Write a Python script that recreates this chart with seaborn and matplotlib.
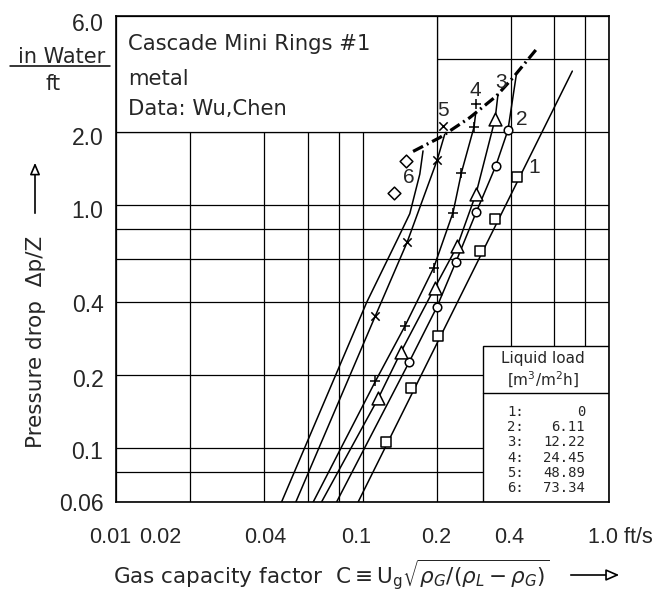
import matplotlib
matplotlib.use("Agg")
import matplotlib.pyplot as plt
import pandas as pd
import seaborn as sns
from matplotlib.patches import Rectangle
from matplotlib.lines import Line2D
from matplotlib.ticker import NullFormatter
from matplotlib.transforms import ScaledTranslation

# ---------------------------------------------------------------------------
# Cascade Mini Rings #1, metal -- pressure drop per unit bed height
# C: gas capacity factor [ft/s], dp: pressure drop [in water / ft]
# ---------------------------------------------------------------------------
curve_ids = ["1", "2", "3", "4", "5", "6"]
liquid_loads = ["0", "6.11", "12.22", "24.45", "48.89", "73.34"]

# measured points
c1_meas = [0.124, 0.158, 0.2025, 0.299, 0.346, 0.423]
dp1_meas = [0.106, 0.176, 0.288, 0.645, 0.876, 1.31]
c2_meas = [0.1545, 0.200, 0.239, 0.289, 0.347, 0.389]
dp2_meas = [0.226, 0.380, 0.581, 0.934, 1.446, 2.03]
c3_meas = [0.1156, 0.143, 0.1964, 0.2427, 0.2887, 0.3453]
dp3_meas = [0.160, 0.248, 0.457, 0.681, 1.113, 2.27]
c4_meas = [0.1127, 0.1484, 0.1945, 0.233, 0.252, 0.2835, 0.288]
dp4_meas = [0.188, 0.317, 0.5525, 0.932, 1.361, 2.10, 2.615]
c5_meas = [0.1129, 0.1516, 0.2007, 0.2122]
dp5_meas = [0.351, 0.702, 1.528, 2.117]
c6_meas = [0.1342, 0.1498]
dp6_meas = [1.12, 1.521]

# correlation curves
c1_curve = [0.096, 0.710]
dp1_curve = [0.06, 3.56]
c2_curve = [0.0785, 0.1545, 0.2001, 0.2388, 0.2892, 0.347, 0.389, 0.421]
dp2_curve = [0.06, 0.2256, 0.3797, 0.581, 0.934, 1.446, 2.033, 3.45]
c3_curve = [0.0682, 0.1156, 0.143, 0.1964, 0.2427, 0.2887, 0.3453, 0.3545]
dp3_curve = [0.06, 0.1596, 0.248, 0.457, 0.681, 1.113, 2.267, 2.858]
c4_curve = [0.0631, 0.1127, 0.1484, 0.1945, 0.233, 0.252, 0.2835, 0.288]
dp4_curve = [0.06, 0.188, 0.3167, 0.5525, 0.9324, 1.361, 2.097, 2.401]
c5_curve = [0.05365, 0.1129, 0.1516, 0.2007, 0.2156]
dp5_curve = [0.06, 0.351, 0.702, 1.528, 1.957]
c6_curve = [0.04695, 0.104, 0.139, 0.1555, 0.1708, 0.176]
dp6_curve = [0.06, 0.398, 0.727, 0.921, 1.341, 1.671]

# flooding limit
c_flood = [0.1604, 0.2057, 0.2723, 0.3494, 0.4077, 0.5073]
dp_flood = [1.663, 1.895, 2.29, 2.812, 3.344, 4.375]

# axis ticks and grid
x_major = [0.01, 0.02, 0.04, 0.1, 0.2, 0.4, 1.0]
x_major_labels = ["0.01", "0.02", "0.04", "0.1", "0.2", "0.4", "1.0 ft/s"]
x_minor = [0.06, 0.08, 0.6, 0.8]
y_major = [0.06, 0.1, 0.2, 0.4, 1.0, 2.0, 6.0]
y_major_labels = ["0.06", "0.1", "0.2", "0.4", "1.0", "2.0", "6.0"]
y_minor = [0.08, 0.6, 0.8, 4.0]

# ---------------------------------------------------------------------------
sns.set_style("white")
plt.rcParams["font.family"] = ["DejaVu Sans"]
plt.rcParams["mathtext.fontset"] = "dejavusans"
NUM_FONT = ["Liberation Sans", "DejaVu Sans"]
INK = "black"

fig = plt.figure(figsize=(6.67, 6.0), dpi=100)
W, H = 667.0, 600.0
ax = fig.add_axes([116 / W, 1 - 502 / H, (609 - 116) / W, (502 - 16) / H])
ax.set_xscale("log")
ax.set_yscale("log")
ax.set_xlim(0.01, 1.0)
ax.set_ylim(0.06, 6.0)

# grid
ax.set_xticks(x_major, x_major_labels)
ax.set_xticks(x_minor, minor=True)
ax.set_yticks(y_major, y_major_labels)
ax.set_yticks(y_minor, minor=True)
ax.xaxis.set_minor_formatter(NullFormatter())
ax.yaxis.set_minor_formatter(NullFormatter())
ax.set_axisbelow(True)
ax.grid(True, which="both", color=INK, lw=0.9)
ax.tick_params(which="both", length=0)
ax.tick_params(axis="x", pad=18)
ax.tick_params(axis="y", pad=9)
for sp in ax.spines.values():
    sp.set_color(INK)
    sp.set_linewidth(1.2)
for lab in ax.get_xticklabels():
    lab.set_fontfamily(NUM_FONT)
    lab.set_fontsize(15.5)
for lab in ax.get_yticklabels():
    lab.set_fontfamily(NUM_FONT)
    lab.set_fontsize(16.5)

# hand-placed tick label offsets (pixels)
x_shift = [-6, -30, 1, -6, -1, -2, -21]
for lab, dx in zip(ax.get_xticklabels(), x_shift):
    lab.set_transform(lab.get_transform() + ScaledTranslation(dx / 100, 0, fig.dpi_scale_trans))
ax.get_xticklabels()[-1].set_horizontalalignment("left")
y_shift = [0, -2, -3, -1, -4, -4, -6]
for lab, dy in zip(ax.get_yticklabels(), y_shift):
    lab.set_transform(lab.get_transform() + ScaledTranslation(0, dy / 100, fig.dpi_scale_trans))

# boxes blanking the grid
ax.add_patch(Rectangle((0.01, 2.0), 0.2 - 0.01, 6.0 - 2.0, transform=ax.transData,
                       facecolor="white", edgecolor=INK, lw=0.9, zorder=2))
leg_left, leg_top, leg_sep = (482.7 - 116) / 493, (502 - 345.7) / 486, (502 - 393) / 486
ax.add_patch(Rectangle((leg_left, 0), 1 - leg_left, leg_top, transform=ax.transAxes,
                       facecolor="white", edgecolor=INK, lw=1.0, zorder=2))
ax.plot([leg_left, 1], [leg_sep, leg_sep], transform=ax.transAxes, color=INK, lw=1.0, zorder=2)

# curves
curves = [(c1_curve, dp1_curve), (c2_curve, dp2_curve), (c3_curve, dp3_curve),
          (c4_curve, dp4_curve), (c5_curve, dp5_curve), (c6_curve, dp6_curve)]
for cid, (cx, cy) in zip(curve_ids, curves):
    df = pd.DataFrame({"C": cx, "dp": cy})
    sns.lineplot(data=df, x="C", y="dp", sort=False, estimator=None, color=INK,
                 lw=1.1, ax=ax, zorder=3)

df_flood = pd.DataFrame({"C": c_flood, "dp": dp_flood})
sns.lineplot(data=df_flood, x="C", y="dp", sort=False, estimator=None, color=INK,
             lw=2.3, linestyle=(0, (3.5, 1.3, 0.6, 1.3)), ax=ax, zorder=3)

# measured points
filled = [(c1_meas, dp1_meas, "s", 55), (c2_meas, dp2_meas, "o", 38),
          (c3_meas, dp3_meas, "^", 85), (c6_meas, dp6_meas, "D", 42)]
for mx, my, mk, sz in filled:
    sns.scatterplot(x=mx, y=my, marker=mk, s=sz, facecolor="white", edgecolor=INK,
                    linewidth=1.1, ax=ax, zorder=4)
sns.scatterplot(x=c4_meas, y=dp4_meas, marker="+", s=60, color=INK, linewidth=1.1, ax=ax, zorder=4)
sns.scatterplot(x=c5_meas, y=dp5_meas, marker="x", s=36, color=INK, linewidth=1.1, ax=ax, zorder=4)

ax.set_xlabel("")
ax.set_ylabel("")

# curve numbers
label_pos = [(0.499, 1.427), (0.441, 2.256), (0.366, 3.19), (0.288, 2.949), (0.2122, 2.44), (0.1545, 1.298)]
for cid, (lx, ly) in zip(curve_ids, label_pos):
    ax.text(lx, ly, cid, fontsize=15, ha="center", va="center", family=NUM_FONT, zorder=5)

# annotation box
for txt, ypx in [("Cascade Mini Rings #1", 50), ("metal", 85), ("Data: Wu,Chen", 115)]:
    ax.text((128 - 116) / 493, (502 - ypx) / 486, txt, transform=ax.transAxes,
            fontsize=15.2, ha="left", va="baseline", zorder=5)

# liquid load table
ax.text((543 - 116) / 493, (502 - 359) / 486, "Liquid load", transform=ax.transAxes,
        fontsize=11, ha="center", va="center", zorder=5)
ax.text((543 - 116) / 493, (502 - 380) / 486, "[m$^3$/m$^2$h]", transform=ax.transAxes,
        fontsize=11, ha="center", va="center", zorder=5)
for i, (cid, load) in enumerate(zip(curve_ids, liquid_loads)):
    ypx = 412 + i * 15.2
    ax.text((507 - 116) / 493, (502 - ypx) / 486, cid + ":", transform=ax.transAxes,
            fontsize=10, family="DejaVu Sans Mono", ha="left", va="center", zorder=5)
    ax.text((585 - 116) / 493, (502 - ypx) / 486, load, transform=ax.transAxes,
            fontsize=10, family="DejaVu Sans Mono", ha="right", va="center", zorder=5)

# unit label
fig.text(62 / W, 1 - 57 / H, "in Water", fontsize=15, ha="center", va="center")
fig.add_artist(Line2D([10 / W, 110 / W], [1 - 66 / H, 1 - 66 / H], color=INK, lw=1.1))
fig.text(53 / W, 1 - 84 / H, "ft", fontsize=15, ha="center", va="center")

# axis titles with arrows
fig.text(36 / W, 1 - 342 / H, "Pressure drop  \u0394p/Z", fontsize=15.5, rotation=90,
         ha="center", va="center")
ax.annotate("", xy=(35 / W, 1 - 160 / H), xytext=(35 / W, 1 - 216 / H),
            xycoords="figure fraction", textcoords="figure fraction", annotation_clip=False,
            arrowprops=dict(arrowstyle="-|>,head_length=0.7,head_width=0.3", fc="white",
                            ec=INK, lw=1.2))
fig.text(113 / W, 1 - 575 / H,
         r"Gas capacity factor  $\mathrm{C} \equiv \mathrm{U_g}\sqrt{\rho_G/(\rho_L-\rho_G)}$",
         fontsize=15.5, ha="left", va="center")
ax.annotate("", xy=(622 / W, 1 - 575 / H), xytext=(568 / W, 1 - 575 / H),
            xycoords="figure fraction", textcoords="figure fraction", annotation_clip=False,
            arrowprops=dict(arrowstyle="-|>,head_length=0.8,head_width=0.35", fc="white",
                            ec=INK, lw=1.2))

fig.savefig("out.png", dpi=100)
